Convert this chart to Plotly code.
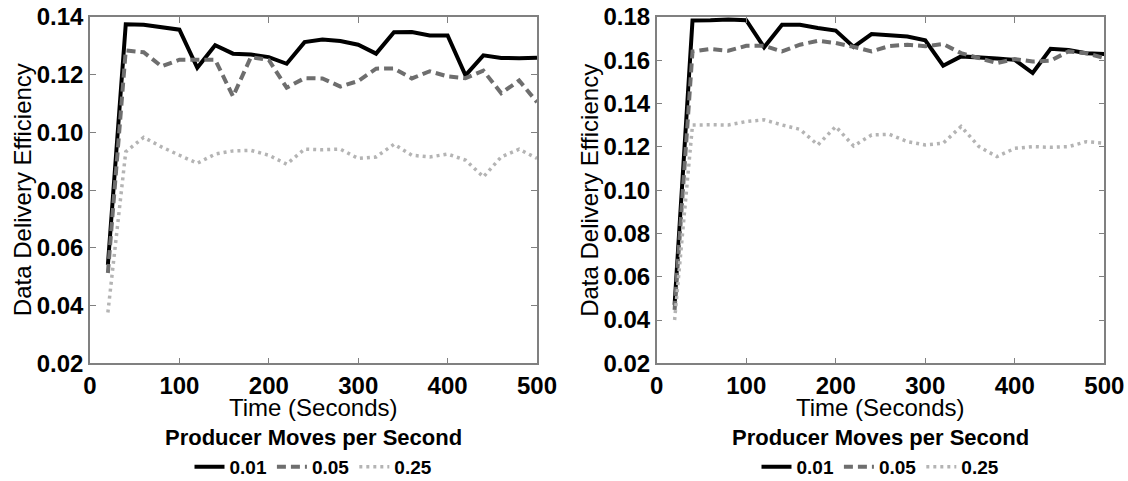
import plotly.graph_objects as go

time_s = [20, 40, 60, 80, 100, 120, 140, 160, 180, 200, 220, 240, 260,
          280, 300, 320, 340, 360, 380, 400, 420, 440, 460, 480, 500]

# Left panel
left_001 = [0.0541, 0.1375, 0.1373, 0.1365, 0.1356, 0.1224, 0.1302, 0.1273, 0.1270, 0.1261,
            0.1238, 0.1313, 0.1322, 0.1317, 0.1304, 0.1273, 0.1347, 0.1348, 0.1336, 0.1336,
            0.1198, 0.1267, 0.1258, 0.1257, 0.1259]
left_005 = [0.0513, 0.1284, 0.1278, 0.1229, 0.1252, 0.1252, 0.1252, 0.1125, 0.1261, 0.1251,
            0.1155, 0.1188, 0.1187, 0.1159, 0.1178, 0.1221, 0.1222, 0.1187, 0.1212, 0.1194,
            0.1188, 0.1214, 0.1136, 0.1180, 0.1105]
left_025 = [0.0376, 0.0933, 0.0983, 0.0950, 0.0921, 0.0893, 0.0925, 0.0936, 0.0938, 0.0921,
            0.0890, 0.0942, 0.0940, 0.0942, 0.0910, 0.0915, 0.0959, 0.0921, 0.0915, 0.0925,
            0.0904, 0.0846, 0.0915, 0.0942, 0.0910]

# Right panel
right_001 = [0.0470, 0.1784, 0.1785, 0.1788, 0.1785, 0.1660, 0.1764, 0.1764, 0.1749, 0.1737,
             0.1662, 0.1721, 0.1716, 0.1710, 0.1692, 0.1575, 0.1618, 0.1611, 0.1608, 0.1602,
             0.1541, 0.1653, 0.1647, 0.1633, 0.1629]
right_005 = [0.0447, 0.1641, 0.1652, 0.1644, 0.1667, 0.1667, 0.1641, 0.1672, 0.1690, 0.1680,
             0.1662, 0.1641, 0.1666, 0.1672, 0.1665, 0.1675, 0.1633, 0.1610, 0.1587, 0.1606,
             0.1594, 0.1598, 0.1641, 0.1633, 0.1610]
right_025 = [0.0400, 0.1301, 0.1302, 0.1301, 0.1317, 0.1325, 0.1301, 0.1281, 0.1209, 0.1294,
             0.1204, 0.1255, 0.1258, 0.1224, 0.1209, 0.1217, 0.1294, 0.1201, 0.1155, 0.1193,
             0.1201, 0.1198, 0.1201, 0.1224, 0.1217]

series_names = ["0.01", "0.05", "0.25"]
legend_title = "Producer Moves per Second"
x_title = "Time (Seconds)"
y_title = "Data Delivery Efficiency"

FONT = "Liberation Sans, Arial, sans-serif"
styles = [
    dict(color="#000000", width=4, dash="solid"),
    dict(color="#6e6e6e", width=4, dash="9px,5px"),
    dict(color="#b4b4b4", width=3.5, dash="3px,4px"),
]

fig = go.Figure()
panels = [
    ("x", "y", "legend", [left_001, left_005, left_025]),
    ("x2", "y2", "legend2", [right_001, right_005, right_025]),
]
for xa, ya, lg, data in panels:
    for name, vals, st in zip(series_names, data, styles):
        fig.add_trace(go.Scatter(
            x=time_s, y=vals, mode="lines", name=name,
            line=dict(color=st["color"], width=st["width"], dash=st["dash"]),
            xaxis=xa, yaxis=ya, legend=lg, showlegend=True,
        ))

axis_common = dict(
    showgrid=False, zeroline=False, showline=True, linecolor="#808080", linewidth=1.5,
    mirror="allticks", ticks="inside", ticklen=6, tickcolor="#808080", tickwidth=1,
    tickfont=dict(family=FONT, size=24, color="#000000", weight="bold"),
    automargin=False,
)

dom_y = [1 - 363.3 / 481, 1 - 17 / 481]
dom_x1 = [90 / 1128, 537 / 1128]
dom_x2 = [656.7 / 1128, 1104.3 / 1128]

legend_common = dict(orientation="h", xanchor="center", y=1 - 467 / 481, yanchor="middle",
                     font=dict(family=FONT, size=19, color="#000000", weight="bold"),
                     bgcolor="rgba(0,0,0,0)", itemwidth=30, tracegroupgap=0)

fig.update_layout(
    width=1128, height=481,
    margin=dict(l=0, r=0, t=0, b=0, pad=0, autoexpand=False),
    paper_bgcolor="white", plot_bgcolor="white",
    showlegend=True,
    xaxis=dict(domain=dom_x1, range=[0, 500], dtick=100, anchor="y", **axis_common),
    yaxis=dict(domain=dom_y, range=[0.02, 0.14], dtick=0.02, tickformat=".2f", anchor="x", **axis_common),
    xaxis2=dict(domain=dom_x2, range=[0, 500], dtick=100, anchor="y2", **axis_common),
    yaxis2=dict(domain=dom_y, range=[0.02, 0.18], dtick=0.02, tickformat=".2f", anchor="x2", **axis_common),
    legend=dict(x=sum(dom_x1) / 2, **legend_common),
    legend2=dict(x=sum(dom_x2) / 2, **legend_common),
)

annotations = []
for dx in (dom_x1, dom_x2):
    cx = sum(dx) / 2
    annotations.append(dict(text=x_title, xref="paper", yref="paper", x=cx, y=1 - 407 / 481,
                            xanchor="center", yanchor="middle", showarrow=False,
                            font=dict(family=FONT, size=24, color="#000000")))
    annotations.append(dict(text="<b>" + legend_title + "</b>", xref="paper", yref="paper", x=cx,
                            y=1 - 437 / 481, xanchor="center", yanchor="middle", showarrow=False,
                            font=dict(family=FONT, size=22, color="#000000")))
    annotations.append(dict(text=y_title, xref="paper", yref="paper", x=(dx[0] * 1128 - 68) / 1128,
                            y=sum(dom_y) / 2, xanchor="center", yanchor="middle", showarrow=False,
                            textangle=-90, font=dict(family=FONT, size=24, color="#000000")))
fig.update_layout(annotations=annotations)

fig.write_html(
    "out.html",
    config={"displayModeBar": False},
    post_script="document.body.style.margin='0';document.body.style.overflow='hidden';",
)
